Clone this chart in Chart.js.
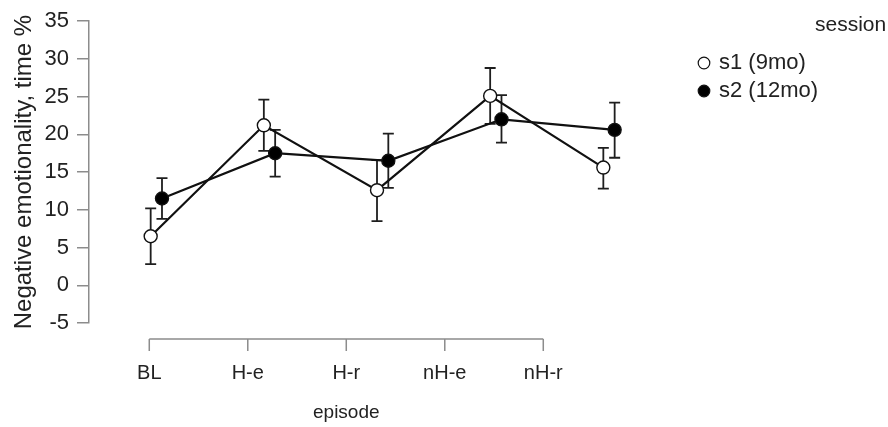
<!DOCTYPE html>
<html>
<head>
<meta charset="utf-8">
<script src="https://cdn.jsdelivr.net/npm/chart.js@4.4.0/dist/chart.umd.min.js"></script>
<style>
  html, body { margin: 0; padding: 0; background: #fff; }
  canvas { display: block; }
</style>
</head>
<body>
<canvas id="chart" width="888" height="427"></canvas>
<script>
// episodes and session means with error bar ends
const episodes = ["BL", "H-e", "H-r", "nH-e", "nH-r"];
const s1Mean = [6.5, 21.2, 12.6, 25.1, 15.6];
const s1Lower = [2.8, 17.8, 8.5, 21.4, 12.8];
const s1Upper = [10.2, 24.6, 16.6, 28.8, 18.2];
const s2Mean = [11.5, 17.5, 16.5, 22.0, 20.6];
const s2Lower = [8.8, 14.4, 12.9, 18.9, 16.9];
const s2Upper = [14.2, 20.6, 20.1, 25.2, 24.2];
const yTicks = [-5, 0, 5, 10, 15, 20, 25, 30, 35];

const FONT = "'Liberation Sans', Arial, sans-serif";
const AXIS_GREY = "#8c8c8c";
const dodge = 0.1;

const toPoints = (vals, off) => vals.map((v, i) => ({ x: i + off, y: v }));

// error bars, drawn under the lines and markers
const errorBars = {
  id: "errorBars",
  beforeDatasetsDraw(chart) {
    const ctx = chart.ctx;
    const y = chart.scales.y;
    ctx.save();
    ctx.strokeStyle = "#1e1e1e";
    ctx.lineWidth = 1.8;
    chart.data.datasets.forEach((ds, di) => {
      const meta = chart.getDatasetMeta(di);
      meta.data.forEach((pt, i) => {
        const top = y.getPixelForValue(ds.upper[i]);
        const bot = y.getPixelForValue(ds.lower[i]);
        ctx.beginPath();
        ctx.moveTo(pt.x, top); ctx.lineTo(pt.x, bot);
        ctx.moveTo(pt.x - 5.5, top); ctx.lineTo(pt.x + 5.5, top);
        ctx.moveTo(pt.x - 5.5, bot); ctx.lineTo(pt.x + 5.5, bot);
        ctx.stroke();
      });
    });
    ctx.restore();
  }
};

// R-style x axis: line offset below the plot, spanning first..last episode,
// with the axis title centred on that span
const episodeAxis = {
  id: "episodeAxis",
  afterDraw(chart) {
    const ctx = chart.ctx;
    const xc = chart.scales.xc;
    const yLine = chart.chartArea.bottom + 16;
    const x0 = xc.getPixelForValue(0);
    const x1 = xc.getPixelForValue(episodes.length - 1);
    ctx.save();
    ctx.strokeStyle = AXIS_GREY;
    ctx.lineWidth = 1.5;
    ctx.beginPath();
    ctx.moveTo(x0, yLine);
    ctx.lineTo(x1, yLine);
    episodes.forEach((_, i) => {
      const px = xc.getPixelForValue(i);
      ctx.moveTo(px, yLine);
      ctx.lineTo(px, yLine + 12);
    });
    ctx.stroke();
    ctx.fillStyle = "#222";
    ctx.font = "19px " + FONT;
    ctx.textAlign = "center";
    ctx.textBaseline = "middle";
    ctx.fillText("episode", (x0 + x1) / 2, 413);
    ctx.restore();
  }
};

// legend with a "session" title
const sessionLegend = {
  id: "sessionLegend",
  afterDraw(chart) {
    const ctx = chart.ctx;
    ctx.save();
    ctx.fillStyle = "#222";
    ctx.textBaseline = "middle";
    ctx.textAlign = "left";
    ctx.font = "21px " + FONT;
    ctx.fillText("session", 815, 25);
    ctx.font = "22px " + FONT;
    chart.data.datasets.forEach((ds, i) => {
      const cy = 63 + i * 28;
      ctx.beginPath();
      ctx.arc(704, cy, 5.8, 0, Math.PI * 2);
      ctx.fillStyle = ds.pointBackgroundColor;
      ctx.fill();
      ctx.strokeStyle = "#111";
      ctx.lineWidth = 1.2;
      ctx.stroke();
      ctx.fillStyle = "#222";
      ctx.fillText(ds.label, 719, cy);
    });
    ctx.restore();
  }
};

new Chart(document.getElementById("chart"), {
  type: "line",
  data: {
    datasets: [
      {
        label: "s1 (9mo)",
        data: toPoints(s1Mean, 0),
        lower: s1Lower,
        upper: s1Upper,
        borderColor: "#111",
        borderWidth: 2.2,
        pointBackgroundColor: "#fff",
        pointBorderColor: "#111",
        pointBorderWidth: 1.4,
        pointRadius: 6.5,
        tension: 0
      },
      {
        label: "s2 (12mo)",
        data: toPoints(s2Mean, dodge),
        lower: s2Lower,
        upper: s2Upper,
        borderColor: "#111",
        borderWidth: 2.2,
        pointBackgroundColor: "#000",
        pointBorderColor: "#111",
        pointBorderWidth: 1.4,
        pointRadius: 6.5,
        tension: 0
      }
    ]
  },
  options: {
    responsive: false,
    animation: false,
    devicePixelRatio: 1,
    layout: { padding: { top: 19, right: 248, left: 0, bottom: 0 } },
    plugins: { legend: { display: false }, tooltip: { enabled: false } },
    scales: {
      x: {
        type: "linear",
        display: false,
        min: -0.545,
        max: 4.324
      },
      xc: {
        type: "linear",
        position: "bottom",
        min: -0.612,
        max: 4.982,
        afterBuildTicks: (s) => { s.ticks = episodes.map((_, i) => ({ value: i })); },
        afterFit: (s) => { s.height = 104; },
        grid: { display: false },
        border: { display: false },
        ticks: {
          autoSkip: false,
          maxRotation: 0,
          padding: 30,
          color: "#222",
          font: { family: FONT, size: 20 },
          callback: (v) => episodes[v]
        }
      },
      y: {
        min: -5,
        max: 35,
        afterBuildTicks: (s) => { s.ticks = yTicks.map((v) => ({ value: v })); },
        afterFit: (s) => { s.width = 89; },
        grid: { drawOnChartArea: false, drawTicks: true, tickLength: 12, color: AXIS_GREY, lineWidth: 1.5 },
        border: { display: true, color: AXIS_GREY, width: 1.5 },
        ticks: {
          padding: 8,
          color: "#222",
          font: { family: FONT, size: 22 }
        },
        title: {
          display: true,
          text: "Negative emotionality, time %",
          color: "#222",
          font: { family: FONT, size: 24 },
          padding: { top: 10, bottom: 0 }
        }
      }
    }
  },
  plugins: [errorBars, episodeAxis, sessionLegend]
});
</script>
</body>
</html>
